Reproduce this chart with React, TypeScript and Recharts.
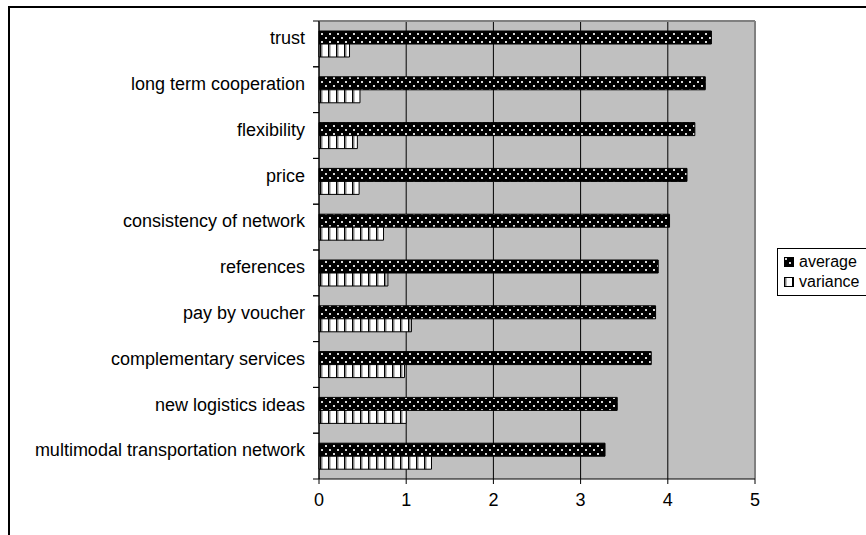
import React from "react";
import { BarChart, Bar, XAxis, YAxis, CartesianGrid } from "recharts";

const categories = [
  "trust",
  "long term cooperation",
  "flexibility",
  "price",
  "consistency of network",
  "references",
  "pay by voucher",
  "complementary services",
  "new logistics ideas",
  "multimodal transportation network",
];
const averageValues = [4.5, 4.43, 4.31, 4.22, 4.02, 3.89, 3.86, 3.81, 3.42, 3.28];
const varianceValues = [0.35, 0.47, 0.44, 0.46, 0.74, 0.79, 1.06, 0.98, 1.0, 1.29];
const xTicks = [0, 1, 2, 3, 4, 5];

const data = categories.map((name, i) => ({
  name,
  average: averageValues[i],
  variance: varianceValues[i],
}));

const FONT = "'Liberation Sans', Arial, sans-serif";
const FONT_SIZE = 18;

// pattern fills shared by the bars and the legend swatches
const Patterns = () => (
  <svg width={0} height={0} style={{ position: "absolute" }}>
    <defs>
      <pattern id="avgDots" width={8} height={8} patternUnits="userSpaceOnUse">
        <rect width={8} height={8} fill="#000" />
        <rect x={1} y={1} width={2} height={2} fill="#d8d8d8" />
        <rect x={5} y={5} width={2} height={2} fill="#d8d8d8" />
      </pattern>
      <pattern id="varStripes" width={8} height={8} patternUnits="userSpaceOnUse">
        <rect width={8} height={8} fill="#fff" />
        <rect x={0} y={0} width={1.5} height={8} fill="#000" />
        <rect x={1.5} y={0} width={1} height={8} fill="#808080" />
      </pattern>
    </defs>
  </svg>
);

// category label centred on the band, tick marks on the band edges
const CategoryTick = (props: any) => {
  const { x, y, payload } = props;
  const half = payload.offset ?? 0;
  return (
    <g>
      <line x1={x + 8} x2={x + 14} y1={y - half} y2={y - half} stroke="#000" />
      <line x1={x + 8} x2={x + 14} y1={y + half} y2={y + half} stroke="#000" />
      <text
        x={x}
        y={y - 6}
        dy="0.35em"
        textAnchor="end"
        fontFamily={FONT}
        fontSize={FONT_SIZE}
        fill="#000"
      >
        {payload.value}
      </text>
    </g>
  );
};

const legendItems = [
  { label: "average", fill: "url(#avgDots)" },
  { label: "variance", fill: "url(#varStripes)" },
];

const LegendBox = () => (
  <div
    style={{
      position: "absolute",
      left: 777,
      top: 248,
      width: 120,
      border: "1px solid #000",
      background: "#fff",
      padding: "3px 0 3px 6px",
      fontFamily: FONT,
      fontSize: 16,
      color: "#000",
      lineHeight: "20px",
    }}
  >
    {legendItems.map((item) => (
      <div key={item.label} style={{ display: "flex", alignItems: "center" }}>
        <svg width={10} height={10} style={{ marginRight: 5 }}>
          <rect x={0.5} y={0.5} width={9} height={9} fill={item.fill} stroke="#000" />
        </svg>
        {item.label}
      </div>
    ))}
  </div>
);

export default function App() {
  return (
    <div
      style={{
        position: "absolute",
        left: 0,
        top: 0,
        width: 866,
        height: 535,
        overflow: "hidden",
        background: "#fff",
      }}
    >
      <Patterns />
      <div
        style={{
          position: "absolute",
          left: 8,
          top: 6,
          width: 900,
          height: 600,
          borderTop: "2px solid #000",
          borderLeft: "2px solid #000",
        }}
      />
      <div style={{ position: "absolute", left: 0, top: 0 }}>
        <BarChart
          width={866}
          height={535}
          layout="vertical"
          data={data}
          margin={{ top: 21, right: 111, bottom: 26, left: 0 }}
          barSize={13}
          barGap={0}
        >
          <CartesianGrid
            horizontal={false}
            stroke="#000"
            fill="#c0c0c0"
            fillOpacity={1}
          />
          {/* gray frame on the top and right of the plot area */}
          <CartesianGrid
            horizontalCoordinatesGenerator={({ offset }: any) => [offset.top]}
            verticalCoordinatesGenerator={({ offset }: any) => [offset.left + offset.width]}
            stroke="#808080"
            strokeWidth={2}
          />
          <XAxis
            type="number"
            domain={[0, 5]}
            ticks={xTicks}
            interval={0}
            tickSize={5}
            tickMargin={9}
            stroke="#000"
            tick={{ fill: "#000", fontFamily: FONT, fontSize: FONT_SIZE }}
          />
          <YAxis
            type="category"
            dataKey="name"
            width={319}
            interval={0}
            tickLine={false}
            tickSize={0}
            tickMargin={0}
            stroke="#000"
            tick={(p: any) => <CategoryTick {...p} x={p.x - 14} />}
          />
          <Bar
            dataKey="average"
            fill="url(#avgDots)"
            stroke="#000"
            strokeWidth={1}
            isAnimationActive={false}
          />
          <Bar
            dataKey="variance"
            fill="url(#varStripes)"
            stroke="#000"
            strokeWidth={1}
            isAnimationActive={false}
          />
        </BarChart>
      </div>
      <LegendBox />
    </div>
  );
}
